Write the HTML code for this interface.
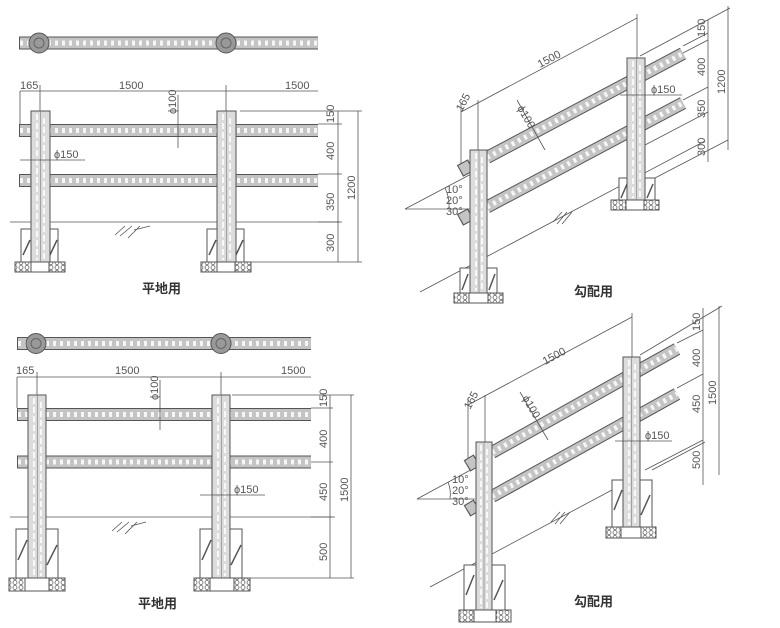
<!DOCTYPE html>
<html><head><meta charset="utf-8"><style>
html,body{margin:0;padding:0;background:#fff;}
svg{display:block;}
text{font-family:"Liberation Sans","Noto Sans CJK JP",sans-serif;fill:#555;font-size:11px;}
.t{fill:none;stroke:#555;stroke-width:0.8;}
.rb{stroke:#555;stroke-width:13;stroke-linecap:butt;}
.rf{stroke:#c4c4c4;stroke-width:11;}
.rd{stroke:#fff;stroke-width:5;stroke-dasharray:3 4;opacity:.85;}
.post{fill:#dcdcdc;stroke:#555;stroke-width:1;}
.pd{stroke:#fff;stroke-width:1.6;stroke-dasharray:6 3;}
.pl{stroke:#777;stroke-width:.6;}
.ft{fill:#fff;stroke:#555;stroke-width:1;}
.h{stroke:#555;stroke-width:1.5;}
.bs{fill:#fff;stroke:#555;stroke-width:1;}
.lab{font-size:13px;fill:#333;font-weight:bold;}
</style></head><body>
<svg width="780" height="628" viewBox="0 0 780 628" xmlns="http://www.w3.org/2000/svg">
<defs>
<pattern id="bp" width="6" height="5" patternUnits="userSpaceOnUse"><rect width="6" height="5" fill="#fff"/><circle cx="3" cy="2.5" r="2" fill="none" stroke="#666" stroke-width="0.8"/></pattern>
</defs>

<!-- ================= TOP LEFT ================= -->
<g>
<line class="rb" x1="19" y1="43" x2="318" y2="43"/><line class="rf" x1="20" y1="43" x2="318" y2="43"/><line class="rd" x1="20" y1="43" x2="318" y2="43"/>
<circle cx="39" cy="43" r="10" fill="#999" stroke="#555"/><circle cx="39" cy="43" r="5" fill="none" stroke="#666"/>
<circle cx="226" cy="43" r="10" fill="#999" stroke="#555"/><circle cx="226" cy="43" r="5" fill="none" stroke="#666"/>
<line class="t" x1="20" y1="91" x2="318" y2="91"/>
<line class="t" x1="20" y1="91" x2="20" y2="124"/><line class="t" x1="40" y1="85" x2="40" y2="111"/><line class="t" x1="226" y1="85" x2="226" y2="111"/>
<text x="20" y="89">165</text><text x="119" y="89">1500</text><text x="285" y="89">1500</text>
<line class="rb" x1="19" y1="130.5" x2="318" y2="130.5"/><line class="rf" x1="20" y1="130.5" x2="318" y2="130.5"/><line class="rd" x1="20" y1="130.5" x2="318" y2="130.5"/>
<line class="rb" x1="19" y1="180.5" x2="318" y2="180.5"/><line class="rf" x1="20" y1="180.5" x2="318" y2="180.5"/><line class="rd" x1="20" y1="180.5" x2="318" y2="180.5"/>
<line class="t" x1="10" y1="222" x2="340" y2="222"/>
<rect class="ft" x="21" y="229" width="37" height="33"/><line class="h" x1="23" y1="255" x2="30" y2="240"/><line class="h" x1="50" y1="255" x2="57" y2="240"/>
<rect class="ft" x="207" y="229" width="37" height="33"/><line class="h" x1="209" y1="255" x2="216" y2="240"/><line class="h" x1="236" y1="255" x2="243" y2="240"/>
<rect x="15" y="262" width="50" height="10" class="bs"/><rect x="15" y="262" width="16" height="10" fill="url(#bp)" stroke="#555"/><rect x="49" y="262" width="16" height="10" fill="url(#bp)" stroke="#555"/>
<rect x="201" y="262" width="50" height="10" class="bs"/><rect x="201" y="262" width="16" height="10" fill="url(#bp)" stroke="#555"/><rect x="235" y="262" width="16" height="10" fill="url(#bp)" stroke="#555"/>
<rect class="post" x="31" y="111" width="19" height="151"/><line class="pd" x1="37" y1="114" x2="37" y2="260"/><line class="pd" x1="44" y1="118" x2="44" y2="260"/><line class="pl" x1="40.5" y1="111" x2="40.5" y2="262"/>
<rect class="post" x="217" y="111" width="19" height="151"/><line class="pd" x1="223" y1="114" x2="223" y2="260"/><line class="pd" x1="230" y1="118" x2="230" y2="260"/><line class="pl" x1="226.5" y1="111" x2="226.5" y2="262"/>
<line class="t" x1="178" y1="95" x2="178" y2="148"/><text transform="translate(176,114) rotate(-90)">ϕ100</text>
<line class="t" x1="20" y1="160" x2="85" y2="160"/><text x="54" y="158">ϕ150</text>
<line class="t" x1="240" y1="111" x2="362" y2="111"/><line class="t" x1="244" y1="262" x2="362" y2="262"/>
<line class="t" x1="318" y1="222" x2="342" y2="222"/><line class="t" x1="318" y1="124" x2="342" y2="124"/><line class="t" x1="318" y1="174" x2="342" y2="174"/>
<line class="t" x1="338" y1="111" x2="338" y2="262"/><line class="t" x1="358" y1="111" x2="358" y2="262"/>
<text transform="translate(334,123) rotate(-90)" font-size="10">150</text>
<text transform="translate(334,160) rotate(-90)">400</text>
<text transform="translate(334,211) rotate(-90)">350</text>
<text transform="translate(334,252) rotate(-90)">300</text>
<text transform="translate(355,200) rotate(-90)">1200</text>
<path class="t" d="M115 235 L125 226 M120 236 L132 226 M128 238 L140 226 M134 230 L150 226"/>
<text class="lab" x="142" y="293">平地用</text>
</g>

<!-- ================= BOTTOM LEFT ================= -->
<g>
<line class="rb" x1="17" y1="343.5" x2="311" y2="343.5"/><line class="rf" x1="18" y1="343.5" x2="311" y2="343.5"/><line class="rd" x1="18" y1="343.5" x2="311" y2="343.5"/>
<circle cx="36" cy="343.5" r="10" fill="#999" stroke="#555"/><circle cx="36" cy="343.5" r="5" fill="none" stroke="#666"/>
<circle cx="221" cy="343.5" r="10" fill="#999" stroke="#555"/><circle cx="221" cy="343.5" r="5" fill="none" stroke="#666"/>
<line class="t" x1="17" y1="377" x2="311" y2="377"/>
<line class="t" x1="17" y1="377" x2="17" y2="408"/><line class="t" x1="37" y1="372" x2="37" y2="395"/><line class="t" x1="221" y1="372" x2="221" y2="395"/>
<text x="16" y="374">165</text><text x="115" y="374">1500</text><text x="281" y="374">1500</text>
<line class="rb" x1="17" y1="414.5" x2="311" y2="414.5"/><line class="rf" x1="18" y1="414.5" x2="311" y2="414.5"/><line class="rd" x1="18" y1="414.5" x2="311" y2="414.5"/>
<line class="rb" x1="17" y1="462" x2="311" y2="462"/><line class="rf" x1="18" y1="462" x2="311" y2="462"/><line class="rd" x1="18" y1="462" x2="311" y2="462"/>
<line class="t" x1="10" y1="517" x2="335" y2="517"/>
<rect class="ft" x="16" y="529" width="42" height="49"/><line class="h" x1="18" y1="560" x2="27" y2="540"/><line class="h" x1="47" y1="565" x2="57" y2="545"/>
<rect class="ft" x="200" y="529" width="42" height="49"/><line class="h" x1="202" y1="560" x2="211" y2="540"/><line class="h" x1="231" y1="565" x2="241" y2="545"/>
<rect x="9" y="578" width="56" height="13" class="bs"/><rect x="9" y="578" width="16" height="13" fill="url(#bp)" stroke="#555"/><rect x="49" y="578" width="16" height="13" fill="url(#bp)" stroke="#555"/>
<rect x="194" y="578" width="56" height="13" class="bs"/><rect x="194" y="578" width="16" height="13" fill="url(#bp)" stroke="#555"/><rect x="234" y="578" width="16" height="13" fill="url(#bp)" stroke="#555"/>
<rect class="post" x="28" y="395" width="18" height="183"/><line class="pd" x1="34" y1="398" x2="34" y2="576"/><line class="pd" x1="41" y1="402" x2="41" y2="576"/><line class="pl" x1="37.5" y1="395" x2="37.5" y2="578"/>
<rect class="post" x="212" y="395" width="18" height="183"/><line class="pd" x1="218" y1="398" x2="218" y2="576"/><line class="pd" x1="225" y1="402" x2="225" y2="576"/><line class="pl" x1="221.5" y1="395" x2="221.5" y2="578"/>
<line class="t" x1="160" y1="380" x2="160" y2="430"/><text transform="translate(158,400) rotate(-90)">ϕ100</text>
<line class="t" x1="200" y1="495" x2="265" y2="495"/><text x="234" y="493">ϕ150</text>
<line class="t" x1="232" y1="395" x2="354" y2="395"/><line class="t" x1="242" y1="578" x2="354" y2="578"/>
<line class="t" x1="311" y1="517" x2="333" y2="517"/><line class="t" x1="311" y1="408" x2="333" y2="408"/><line class="t" x1="311" y1="462" x2="333" y2="462"/>
<line class="t" x1="330" y1="395" x2="330" y2="578"/><line class="t" x1="351" y1="395" x2="351" y2="578"/>
<text transform="translate(327,407) rotate(-90)" font-size="10">150</text>
<text transform="translate(327,448) rotate(-90)">400</text>
<text transform="translate(327,501) rotate(-90)">450</text>
<text transform="translate(327,561) rotate(-90)">500</text>
<text transform="translate(348,502) rotate(-90)">1500</text>
<path class="t" d="M112 531 L122 522 M117 532 L129 522 M125 534 L137 522 M131 526 L146 522"/>
<text class="lab" x="138" y="608">平地用</text>
</g>

<!-- ================= TOP RIGHT ================= -->
<g>
<line class="t" x1="420" y1="292" x2="705" y2="141"/>
<line class="t" x1="655" y1="178" x2="728" y2="140"/>
<line class="t" x1="405" y1="209" x2="470" y2="209"/><line class="t" x1="405" y1="209" x2="475" y2="172"/>
<path class="t" d="M445 188 A40 40 0 0 1 449 209"/>
<text x="446" y="193" font-size="10">10°</text><text x="446" y="204" font-size="10">20°</text><text x="446" y="215" font-size="10">30°</text>
<line class="t" x1="461" y1="112" x2="637" y2="18"/>
<line class="t" x1="461" y1="104" x2="461" y2="165"/><line class="t" x1="478" y1="100" x2="478" y2="150"/><line class="t" x1="637" y1="14" x2="637" y2="60"/>
<text transform="translate(462,112) rotate(-62)">165</text>
<text transform="translate(540,68) rotate(-28)">1500</text>
<line class="t" x1="640" y1="56" x2="730" y2="8"/>
<line class="t" x1="683" y1="46" x2="708" y2="33"/>
<line class="t" x1="683" y1="53" x2="708" y2="40"/>
<line class="t" x1="683" y1="100" x2="708" y2="87"/>
<line class="t" x1="645" y1="145" x2="708" y2="112"/>
<line class="t" x1="708" y1="20" x2="708" y2="162"/><line class="t" x1="728" y1="6" x2="728" y2="150"/>
<text transform="translate(705,37) rotate(-90)" font-size="10">150</text>
<text transform="translate(705,76) rotate(-90)">400</text>
<text transform="translate(705,118) rotate(-90)">350</text>
<text transform="translate(705,156) rotate(-90)">300</text>
<text transform="translate(725,94) rotate(-90)">1200</text>
<line class="rb" x1="487" y1="157.5" x2="683" y2="53.5"/><line class="rf" x1="487" y1="157.5" x2="683" y2="53.5"/><line class="rd" x1="487" y1="157.5" x2="683" y2="53.5"/>
<line class="rb" x1="487" y1="207" x2="683" y2="103"/><line class="rf" x1="487" y1="207" x2="683" y2="103"/><line class="rd" x1="487" y1="207" x2="683" y2="103"/>
<line class="rb" x1="460" y1="171" x2="471" y2="165"/><line class="rf" x1="461" y1="170.5" x2="470" y2="165.5"/>
<line class="rb" x1="460" y1="220" x2="471" y2="214"/><line class="rf" x1="461" y1="219.5" x2="470" y2="214.5"/>
<rect class="ft" x="460" y="268" width="37" height="25"/><line class="h" x1="462" y1="290" x2="468" y2="274"/><line class="h" x1="489" y1="290" x2="495" y2="274"/>
<rect class="ft" x="619" y="178" width="36" height="22"/><line class="h" x1="621" y1="198" x2="627" y2="184"/><line class="h" x1="647" y1="198" x2="653" y2="184"/>
<rect x="454" y="293" width="49" height="10" class="bs"/><rect x="454" y="293" width="15" height="10" fill="url(#bp)" stroke="#555"/><rect x="488" y="293" width="15" height="10" fill="url(#bp)" stroke="#555"/>
<rect x="611" y="200" width="48" height="10" class="bs"/><rect x="611" y="200" width="15" height="10" fill="url(#bp)" stroke="#555"/><rect x="644" y="200" width="15" height="10" fill="url(#bp)" stroke="#555"/>
<rect class="post" x="470" y="150" width="17" height="143"/><line class="pd" x1="476" y1="153" x2="476" y2="291"/><line class="pd" x1="482" y1="157" x2="482" y2="291"/><line class="pl" x1="479" y1="150" x2="479" y2="293"/>
<rect class="post" x="627" y="58" width="18" height="142"/><line class="pd" x1="633" y1="61" x2="633" y2="198"/><line class="pd" x1="640" y1="65" x2="640" y2="198"/><line class="pl" x1="636.5" y1="58" x2="636.5" y2="200"/>
<line class="t" x1="517" y1="100" x2="545" y2="150"/><text transform="translate(517,108) rotate(60)" font-size="10">ϕ100</text>
<line class="t" x1="620" y1="95" x2="682" y2="95"/><text x="651" y="93">ϕ150</text>
<path class="t" d="M553 222 L562 212 M557 224 L567 212 M562 224 L572 212"/>
<text class="lab" x="574" y="296">勾配用</text>
</g>

<!-- ================= BOTTOM RIGHT ================= -->
<g>
<line class="t" x1="430" y1="587" x2="612" y2="490"/>
<line class="t" x1="652" y1="470" x2="705" y2="442"/>
<line class="t" x1="417" y1="499" x2="475" y2="499"/><line class="t" x1="417" y1="499" x2="478" y2="466"/>
<path class="t" d="M448 482 A33 33 0 0 1 450 499"/>
<text x="452" y="483" font-size="10">10°</text><text x="452" y="494" font-size="10">20°</text><text x="452" y="505" font-size="10">30°</text>
<line class="t" x1="468" y1="405" x2="632" y2="317"/>
<line class="t" x1="468" y1="398" x2="468" y2="460"/><line class="t" x1="485" y1="395" x2="485" y2="442"/><line class="t" x1="632" y1="313" x2="632" y2="360"/>
<text transform="translate(470,410) rotate(-62)">165</text>
<text transform="translate(545,365) rotate(-28)">1500</text>
<line class="t" x1="640" y1="355" x2="722" y2="306"/>
<line class="t" x1="677" y1="343" x2="703" y2="330"/>
<line class="t" x1="677" y1="388" x2="703" y2="374"/>
<line class="t" x1="645" y1="470" x2="703" y2="440"/>
<line class="t" x1="703" y1="308" x2="703" y2="485"/><line class="t" x1="719" y1="306" x2="719" y2="475"/>
<text transform="translate(700,331) rotate(-90)" font-size="10">150</text>
<text transform="translate(700,367) rotate(-90)">400</text>
<text transform="translate(700,413) rotate(-90)">450</text>
<text transform="translate(700,469) rotate(-90)">500</text>
<text transform="translate(716,405) rotate(-90)">1500</text>
<line class="rb" x1="492" y1="452.5" x2="677" y2="349"/><line class="rf" x1="492" y1="452.5" x2="677" y2="349"/><line class="rd" x1="492" y1="452.5" x2="677" y2="349"/>
<line class="rb" x1="492" y1="496.5" x2="677" y2="394"/><line class="rf" x1="492" y1="496.5" x2="677" y2="394"/><line class="rd" x1="492" y1="496.5" x2="677" y2="394"/>
<line class="rb" x1="467" y1="466" x2="477" y2="460"/><line class="rf" x1="468" y1="465.5" x2="476" y2="460.5"/>
<line class="rb" x1="467" y1="511" x2="477" y2="505"/><line class="rf" x1="468" y1="510.5" x2="476" y2="505.5"/>
<rect class="ft" x="464" y="565" width="41" height="45"/><line class="h" x1="466" y1="595" x2="474" y2="575"/><line class="h" x1="494" y1="600" x2="503" y2="580"/>
<rect class="ft" x="612" y="480" width="40" height="47"/><line class="h" x1="614" y1="510" x2="622" y2="490"/><line class="h" x1="641" y1="515" x2="650" y2="495"/>
<rect x="459" y="610" width="52" height="12" class="bs"/><rect x="459" y="610" width="15" height="12" fill="url(#bp)" stroke="#555"/><rect x="496" y="610" width="15" height="12" fill="url(#bp)" stroke="#555"/>
<rect x="606" y="527" width="50" height="11" class="bs"/><rect x="606" y="527" width="15" height="11" fill="url(#bp)" stroke="#555"/><rect x="641" y="527" width="15" height="11" fill="url(#bp)" stroke="#555"/>
<rect class="post" x="476" y="442" width="16" height="168"/><line class="pd" x1="481" y1="445" x2="481" y2="608"/><line class="pd" x1="487" y1="449" x2="487" y2="608"/><line class="pl" x1="484" y1="442" x2="484" y2="610"/>
<rect class="post" x="623" y="357" width="17" height="170"/><line class="pd" x1="629" y1="360" x2="629" y2="525"/><line class="pd" x1="635" y1="364" x2="635" y2="525"/><line class="pl" x1="631.5" y1="357" x2="631.5" y2="527"/>
<line class="t" x1="520" y1="392" x2="548" y2="440"/><text transform="translate(522,398) rotate(60)" font-size="10">ϕ100</text>
<line class="t" x1="615" y1="441" x2="672" y2="441"/><text x="645" y="439">ϕ150</text>
<path class="t" d="M551 522 L560 512 M555 524 L565 512 M560 524 L570 512"/>
<text class="lab" x="574" y="606">勾配用</text>
</g>
</svg>
</body></html>
